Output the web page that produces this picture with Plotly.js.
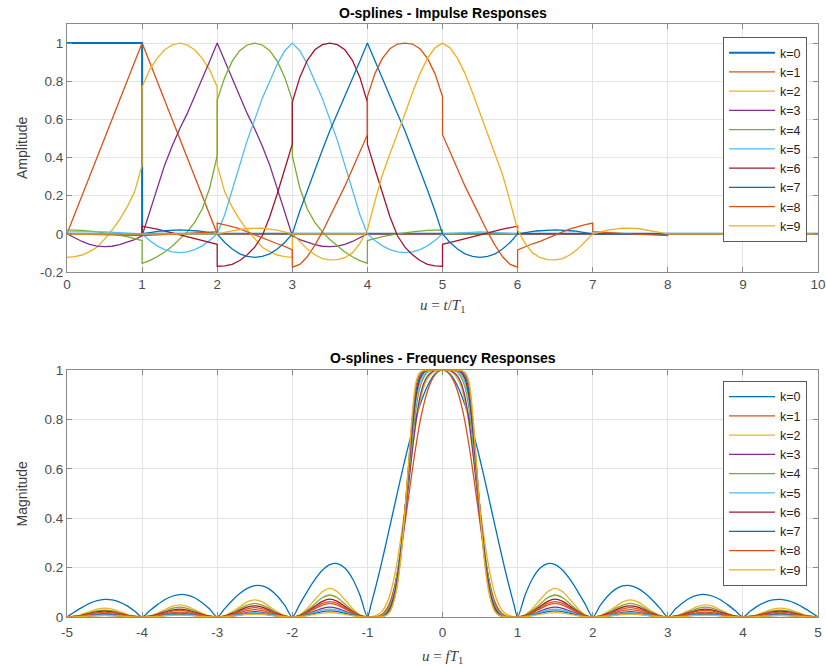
<!DOCTYPE html>
<html><head><meta charset="utf-8">
<script src="https://cdn.plot.ly/plotly-3.0.1.min.js"></script>
<style>html,body{margin:0;padding:0;background:#fff}#chart{width:826px;height:665px}</style>
</head><body><div id="chart"></div>
<script>
// ---------- series names & colours ----------
const seriesNames = ['k=0','k=1','k=2','k=3','k=4','k=5','k=6','k=7','k=8','k=9'];
const seriesColors = ['#0072BD','#D95319','#EDB120','#7E2F8E','#77AC30','#4DBEEE','#A2142F','#0072BD','#D95319','#EDB120'];

// ---------- impulse responses (u = t/T1, amplitude) ----------
const impX0 = [0,1,1,10];
const impY0 = [1,1,0,0];
const impX1 = [0,1,2,10];
const impY1 = [0,1,0,0];
const impX2 = [0,0.1,0.2,0.3,0.4,0.5,0.6,0.7,0.8,0.9,1,1,1.1,1.2,1.3,1.4,1.5,1.6,1.7,1.8,1.9,2,2,2.1,2.2,2.3,2.4,2.5,2.6,2.7,2.8,2.9,3,3,10];
const impY2 = [-0.123,-0.119,-0.111,-0.093,-0.07,-0.028,0.02,0.075,0.14,0.22,0.36,0.77,0.86,0.92,0.965,0.99,1,0.99,0.965,0.92,0.86,0.77,0.36,0.22,0.14,0.075,0.02,-0.028,-0.07,-0.093,-0.111,-0.119,-0.123,0,0];
const impX3 = [0,0.1,0.2,0.3,0.4,0.5,0.6,0.7,0.8,0.9,1,1.1,1.2,1.3,1.4,1.5,1.6,1.7,1.8,1.9,2,2.1,2.2,2.3,2.4,2.5,2.6,2.7,2.8,2.9,3,3.1,3.2,3.3,3.4,3.5,3.6,3.7,3.8,3.9,4,10];
const impY3 = [0,-0.02,-0.04,-0.055,-0.064,-0.067,-0.065,-0.057,-0.045,-0.03,-0.01,0.11,0.24,0.36,0.46,0.55,0.63,0.72,0.81,0.905,1,0.905,0.81,0.72,0.63,0.55,0.46,0.36,0.24,0.11,-0.01,-0.03,-0.045,-0.057,-0.065,-0.067,-0.064,-0.055,-0.04,-0.02,0,0];
const impX4 = [0,0.2,0.4,0.6,0.8,1,1,1.1,1.2,1.3,1.4,1.5,1.6,1.7,1.8,1.9,2,2,2.1,2.2,2.3,2.4,2.5,2.6,2.7,2.8,2.9,3,3,3.1,3.2,3.3,3.4,3.5,3.6,3.7,3.8,3.9,4,4,4.2,4.4,4.6,4.8,5,5,10];
const impY4 = [0.021,0.018,0.01,0,-0.015,-0.035,-0.155,-0.14,-0.12,-0.095,-0.065,-0.03,0.01,0.06,0.13,0.24,0.41,0.7,0.82,0.905,0.96,0.99,1,0.99,0.96,0.905,0.82,0.7,0.41,0.24,0.13,0.06,0.01,-0.03,-0.065,-0.095,-0.12,-0.14,-0.155,-0.035,-0.015,0,0.01,0.018,0.021,0,0];
const impX5 = [0,0.5,1,1.1,1.2,1.3,1.4,1.5,1.6,1.7,1.8,1.9,2,2.1,2.2,2.3,2.4,2.5,2.6,2.7,2.8,2.9,3,3.1,3.2,3.3,3.4,3.5,3.6,3.7,3.8,3.9,4,4.1,4.2,4.3,4.4,4.5,4.6,4.7,4.8,4.9,5,5.5,6,10];
const impY5 = [0.01,0.01,0,-0.035,-0.063,-0.083,-0.095,-0.098,-0.095,-0.083,-0.063,-0.035,0,0.1,0.23,0.36,0.49,0.6,0.71,0.8,0.89,0.96,1,0.96,0.89,0.8,0.71,0.6,0.49,0.36,0.23,0.1,0,-0.035,-0.063,-0.083,-0.095,-0.098,-0.095,-0.083,-0.063,-0.035,0,0.01,0,0];
const impX6 = [0,1,1,1.2,1.4,1.6,1.8,2,2,2.1,2.2,2.3,2.4,2.5,2.6,2.7,2.8,2.9,3,3,3.1,3.2,3.3,3.4,3.5,3.6,3.7,3.8,3.9,4,4,4.1,4.2,4.3,4.4,4.5,4.6,4.7,4.8,4.9,5,5,5.2,5.4,5.6,5.8,6,6,10];
const impY6 = [0,0,0.04,0.025,0.005,-0.015,-0.035,-0.055,-0.17,-0.168,-0.16,-0.14,-0.11,-0.07,-0.01,0.09,0.21,0.34,0.47,0.69,0.82,0.91,0.965,0.992,1,0.992,0.965,0.91,0.82,0.69,0.47,0.34,0.21,0.09,-0.01,-0.07,-0.11,-0.14,-0.16,-0.168,-0.17,-0.055,-0.035,-0.015,0.005,0.025,0.04,0,0];
const impX7 = [0,1,1.25,1.5,1.75,2,2.1,2.2,2.3,2.4,2.5,2.6,2.7,2.8,2.9,3,3.1,3.2,3.3,3.4,3.5,3.6,3.7,3.8,3.9,4,4.1,4.2,4.3,4.4,4.5,4.6,4.7,4.8,4.9,5,5.1,5.2,5.3,5.4,5.5,5.6,5.7,5.8,5.9,6,6.25,6.5,6.75,7,10];
const impY7 = [0,0,0.015,0.021,0.015,0,-0.045,-0.08,-0.105,-0.118,-0.123,-0.118,-0.105,-0.08,-0.045,0,0.12,0.23,0.34,0.44,0.54,0.63,0.72,0.81,0.905,1,0.905,0.81,0.72,0.63,0.54,0.44,0.34,0.23,0.12,0,-0.045,-0.08,-0.105,-0.118,-0.123,-0.118,-0.105,-0.08,-0.045,0,0.015,0.021,0.015,0,0];
const impX8 = [0,1,1.5,2,2,2.1,2.2,2.3,2.4,2.5,2.6,2.7,2.8,2.9,3,3,3.1,3.2,3.3,3.4,3.5,3.6,3.7,3.8,3.9,4,4,4.1,4.2,4.3,4.4,4.5,4.6,4.7,4.8,4.9,5,5,5.1,5.2,5.3,5.4,5.5,5.6,5.7,5.8,5.9,6,6,6.1,6.2,6.3,6.4,6.5,6.6,6.7,6.8,6.9,7,7,7.5,8,8,10];
const impY8 = [0,-0.009,0,0.012,0.056,0.048,0.038,0.026,0.01,-0.006,-0.022,-0.04,-0.052,-0.066,-0.084,-0.175,-0.16,-0.12,-0.06,0.01,0.09,0.17,0.25,0.34,0.43,0.52,0.72,0.84,0.92,0.97,0.995,1,0.995,0.97,0.92,0.84,0.72,0.52,0.43,0.34,0.25,0.17,0.09,0.01,-0.06,-0.12,-0.16,-0.175,-0.084,-0.066,-0.052,-0.04,-0.022,-0.006,0.01,0.026,0.038,0.048,0.056,0.012,0,-0.009,0,0];
const impX9 = [0,2,2.2,2.4,2.6,2.8,3,3.1,3.2,3.3,3.4,3.5,3.6,3.7,3.8,3.9,4,4.1,4.2,4.3,4.4,4.5,4.6,4.7,4.8,4.9,5,5.1,5.2,5.3,5.4,5.5,5.6,5.7,5.8,5.9,6,6.1,6.2,6.3,6.4,6.5,6.6,6.7,6.8,6.9,7,7.2,7.4,7.6,7.8,8,10];
const impY9 = [0,0,0.015,0.028,0.03,0.02,0,-0.04,-0.08,-0.11,-0.13,-0.137,-0.135,-0.125,-0.1,-0.05,0.02,0.17,0.31,0.42,0.52,0.63,0.74,0.84,0.92,0.975,1,0.975,0.92,0.84,0.74,0.63,0.52,0.42,0.31,0.17,0.02,-0.05,-0.1,-0.125,-0.135,-0.137,-0.13,-0.11,-0.08,-0.04,0,0.02,0.03,0.028,0.015,0,0];

// ---------- frequency responses (u = f T1, magnitude) ----------
const freqGrid = [-5,-4.9,-4.8,-4.7,-4.6,-4.5,-4.4,-4.3,-4.2,-4.1,-4,-3.9,-3.8,-3.7,-3.6,-3.5,-3.4,-3.3,-3.2,-3.1,-3,-2.9,-2.8,-2.7,-2.6,-2.5,-2.4,-2.3,-2.2,-2.1,-2,-1.9,-1.8,-1.7,-1.6,-1.5,-1.4,-1.3,-1.2,-1.1,-1,-0.95,-0.9,-0.85,-0.8,-0.75,-0.7,-0.65,-0.6,-0.55,-0.5,-0.45,-0.4,-0.35,-0.3,-0.25,-0.2,-0.15,-0.1,-0.05,0,0.05,0.1,0.15,0.2,0.25,0.3,0.35,0.4,0.45,0.5,0.55,0.6,0.65,0.7,0.75,0.8,0.85,0.9,0.95,1,1.1,1.2,1.3,1.4,1.5,1.6,1.7,1.8,1.9,2,2.1,2.2,2.3,2.4,2.5,2.6,2.7,2.8,2.9,3,3.1,3.2,3.3,3.4,3.5,3.6,3.7,3.8,3.9,4,4.1,4.2,4.3,4.4,4.5,4.6,4.7,4.8,4.9,5];
const mag0 = [0,.020,.039,.055,.066,.071,.069,.060,.045,.024, 0,.025,.049,.070,.084,.091,.089,.078,.058,.032, 0,.034,.067,.095,.116,.127,.126,.112,.085,.047, 0,.052,.104,.151,.189,.212,.216,.198,.156,.089,
 0,.0524,.1093,.1700,.2339,.3001,.3679,.4363,.5046,.5716,.6366,.6987,.7568,.8103,.8584,.9003,.9355,.9634,.9836,.9959, 1,
 .9959,.9836,.9634,.9355,.9003,.8584,.8103,.7568,.6987,.6366,.5716,.5046,.4363,.3679,.3001,.2339,.1700,.1093,.0524,0,
 .089,.156,.198,.216,.212,.189,.151,.104,.052, 0,.047,.085,.112,.126,.127,.116,.095,.067,.034, 0,.032,.058,.078,.089,.091,.084,.070,.049,.025, 0,.024,.045,.060,.069,.071,.066,.055,.039,.020, 0];
const mag1 = [0,.001,.005,.009,.013,.015,.013,.009,.005,.001, 0,.002,.006,.012,.018,.02,.018,.012,.006,.002, 0,.002,.009,.018,.026,.03,.026,.018,.009,.002, 0,.004,.017,.033,.048,.055,.048,.033,.017,.004,
 0,0,.001,.004,.012,.03,.06,.11,.18,.27,.38,.49,.6,.7,.79,.86,.915,.955,.98,.995, 1,
 .995,.98,.955,.915,.86,.79,.7,.6,.49,.38,.27,.18,.11,.06,.03,.012,.004,.001,0,0,
 .004,.017,.033,.048,.055,.048,.033,.017,.004, 0,.002,.009,.018,.026,.03,.026,.018,.009,.002, 0,.002,.006,.012,.018,.02,.018,.012,.006,.002, 0,.001,.005,.009,.013,.015,.013,.009,.005,.001, 0];
const mag2 = [0,.003,.011,.022,.032,.036,.032,.022,.011,.003, 0,.004,.015,.029,.043,.049,.043,.029,.015,.004, 0,.006,.021,.041,.061,.069,.061,.041,.021,.006, 0,.009,.035,.07,.102,.116,.102,.07,.035,.009,
 0,.001,.005,.012,.025,.05,.09,.15,.23,.33,.44,.56,.68,.79,.87,.93,.965,.985,.995,1, 1,
 1,.995,.985,.965,.93,.87,.79,.68,.56,.44,.33,.23,.15,.09,.05,.025,.012,.005,.001,0,
 .009,.035,.07,.102,.116,.102,.07,.035,.009, 0,.006,.021,.041,.061,.069,.061,.041,.021,.006, 0,.004,.015,.029,.043,.049,.043,.029,.015,.004, 0,.003,.011,.022,.032,.036,.032,.022,.011,.003, 0];
const mag3 = [0,.001,.003,.007,.01,.011,.01,.007,.003,.001, 0,.001,.005,.009,.013,.015,.013,.009,.005,.001, 0,.002,.007,.013,.019,.022,.019,.013,.007,.002, 0,.003,.012,.024,.035,.04,.035,.024,.012,.003,
 0,0,0,.002,.008,.02,.05,.1,.18,.28,.4,.54,.68,.8,.89,.945,.975,.99,.998,1, 1,
 1,.998,.99,.975,.945,.89,.8,.68,.54,.4,.28,.18,.1,.05,.02,.008,.002,0,0,0,
 .003,.012,.024,.035,.04,.035,.024,.012,.003, 0,.002,.007,.013,.019,.022,.019,.013,.007,.002, 0,.001,.005,.009,.013,.015,.013,.009,.005,.001, 0,.001,.003,.007,.01,.011,.01,.007,.003,.001, 0];
const mag4 = [0,.002,.008,.017,.025,.028,.025,.017,.008,.002, 0,.003,.012,.024,.035,.04,.035,.024,.012,.003, 0,.004,.017,.033,.048,.055,.048,.033,.017,.004, 0,.007,.027,.053,.078,.089,.078,.053,.027,.007,
 0,0,0,.002,.008,.022,.05,.1,.18,.29,.42,.57,.72,.85,.93,.97,.99,.997,1,1, 1,
 1,1,.997,.99,.97,.93,.85,.72,.57,.42,.29,.18,.1,.05,.022,.008,.002,0,0,0,
 .007,.027,.053,.078,.089,.078,.053,.027,.007, 0,.004,.017,.033,.048,.055,.048,.033,.017,.004, 0,.003,.012,.024,.035,.04,.035,.024,.012,.003, 0,.002,.008,.017,.025,.028,.025,.017,.008,.002, 0];
const mag5 = [0,.001,.003,.005,.008,.009,.008,.005,.003,.001, 0,.001,.004,.007,.011,.012,.011,.007,.004,.001, 0,.001,.005,.011,.016,.018,.016,.011,.005,.001, 0,.003,.01,.019,.028,.032,.028,.019,.01,.003,
 0,0,0,.001,.005,.015,.04,.09,.17,.29,.43,.59,.75,.88,.95,.98,.995,.999,1,1, 1,
 1,1,.999,.995,.98,.95,.88,.75,.59,.43,.29,.17,.09,.04,.015,.005,.001,0,0,0,
 .003,.01,.019,.028,.032,.028,.019,.01,.003, 0,.001,.005,.011,.016,.018,.016,.011,.005,.001, 0,.001,.004,.007,.011,.012,.011,.007,.004,.001, 0,.001,.003,.005,.008,.009,.008,.005,.003,.001, 0];
const mag6 = [0,.002,.007,.014,.021,.024,.021,.014,.007,.002, 0,.003,.01,.019,.028,.032,.028,.019,.01,.003, 0,.004,.014,.027,.04,.045,.04,.027,.014,.004, 0,.006,.022,.043,.063,.072,.063,.043,.022,.006,
 0,0,0,.001,.003,.012,.035,.08,.16,.28,.43,.6,.77,.9,.965,.99,.998,1,1,1, 1,
 1,1,1,.998,.99,.965,.9,.77,.6,.43,.28,.16,.08,.035,.012,.003,.001,0,0,0,
 .006,.022,.043,.063,.072,.063,.043,.022,.006, 0,.004,.014,.027,.04,.045,.04,.027,.014,.004, 0,.003,.01,.019,.028,.032,.028,.019,.01,.003, 0,.002,.007,.014,.021,.024,.021,.014,.007,.002, 0];
const mag7 = [0,.001,.002,.004,.006,.007,.006,.004,.002,.001, 0,.001,.003,.006,.009,.01,.009,.006,.003,.001, 0,.001,.004,.008,.012,.014,.012,.008,.004,.001, 0,.002,.008,.015,.022,.025,.022,.015,.008,.002,
 0,0,0,0,.002,.01,.03,.07,.15,.27,.43,.61,.79,.92,.975,.993,.999,1,1,1, 1,
 1,1,1,.999,.993,.975,.92,.79,.61,.43,.27,.15,.07,.03,.01,.002,0,0,0,0,
 .002,.008,.015,.022,.025,.022,.015,.008,.002, 0,.001,.004,.008,.012,.014,.012,.008,.004,.001, 0,.001,.003,.006,.009,.01,.009,.006,.003,.001, 0,.001,.002,.004,.006,.007,.006,.004,.002,.001, 0];
const mag8 = [0,.002,.006,.012,.018,.02,.018,.012,.006,.002, 0,.002,.008,.016,.024,.027,.024,.016,.008,.002, 0,.003,.011,.023,.033,.038,.033,.023,.011,.003, 0,.005,.019,.037,.055,.062,.055,.037,.019,.005,
 0,0,0,0,.002,.008,.025,.065,.14,.26,.43,.62,.81,.94,.985,.996,1,1,1,1, 1,
 1,1,1,1,.996,.985,.94,.81,.62,.43,.26,.14,.065,.025,.008,.002,0,0,0,0,
 .005,.019,.037,.055,.062,.055,.037,.019,.005, 0,.003,.011,.023,.033,.038,.033,.023,.011,.003, 0,.002,.008,.016,.024,.027,.024,.016,.008,.002, 0,.002,.006,.012,.018,.02,.018,.012,.006,.002, 0];
const mag9 = [0,0,.002,.004,.005,.006,.005,.004,.002,0, 0,.001,.002,.005,.007,.008,.007,.005,.002,.001, 0,.001,.004,.007,.011,.012,.011,.007,.004,.001, 0,.001,.005,.011,.016,.018,.016,.011,.005,.001,
 0,0,0,0,.002,.007,.022,.06,.13,.25,.43,.63,.83,.955,.99,.998,1,1,1,1, 1,
 1,1,1,1,.998,.99,.955,.83,.63,.43,.25,.13,.06,.022,.007,.002,0,0,0,0,
 .001,.005,.011,.016,.018,.016,.011,.005,.001, 0,.001,.004,.007,.011,.012,.011,.007,.004,.001, 0,.001,.002,.005,.007,.008,.007,.005,.002,.001, 0,0,.002,.004,.005,.006,.005,.004,.002,0, 0];

// ---------- tick labels ----------
const impXTicks = [0,1,2,3,4,5,6,7,8,9,10];
const impYTicks = [-0.2,0,0.2,0.4,0.6,0.8,1];
const impYTickText = ['-0.2','0','0.2','0.4','0.6','0.8','1'];
const freqXTicks = [-5,-4,-3,-2,-1,0,1,2,3,4,5];
const freqXTickText = ['-5','-4','-3','-2','-1','0','1','2','3','4','5'];
const freqYTicks = [0,0.2,0.4,0.6,0.8,1];
const freqYTickText = ['0','0.2','0.4','0.6','0.8','1'];

const impXs = [impX0,impX1,impX2,impX3,impX4,impX5,impX6,impX7,impX8,impX9];
const impYs = [impY0,impY1,impY2,impY3,impY4,impY5,impY6,impY7,impY8,impY9];
const mags = [mag0,mag1,mag2,mag3,mag4,mag5,mag6,mag7,mag8,mag9];

const traces = [];
for (let k = 0; k < 10; k++) {
  traces.push({
    type:'scatter', mode:'lines', x: impXs[k], y: impYs[k], name: seriesNames[k],
    xaxis:'x', yaxis:'y', legend:'legend',
    line:{color: seriesColors[k], width: k === 0 ? 2 : 1.3}, hoverinfo:'skip'
  });
}
for (let k = 0; k < 10; k++) {
  traces.push({
    type:'scatter', mode:'lines', x: freqGrid, y: mags[k], name: seriesNames[k],
    xaxis:'x2', yaxis:'y2', legend:'legend2',
    line:{color: seriesColors[k], width: 1.3, shape:'spline', smoothing:0.8}, hoverinfo:'skip'
  });
}

const FONT = 'Liberation Sans, Arial, Helvetica, sans-serif';
const axisBase = {
  showline:true, linecolor:'#8a8a8a', linewidth:1, mirror:'ticks',
  ticks:'inside', ticklen:5, tickcolor:'#8a8a8a', tickwidth:1,
  showgrid:true, gridcolor:'#e4e4e4', gridwidth:1, zeroline:false,
  tickfont:{family:FONT, size:13.5, color:'#4d4d4d'}, fixedrange:true
};
const legendBase = {
  xanchor:'right', yanchor:'top', bgcolor:'#ffffff', bordercolor:'#5a5a5a', borderwidth:1,
  font:{family:FONT, size:12.5, color:'#262626'}, tracegroupgap:0, itemwidth:46
};

const topDom = [0.5818, 1];
const botDom = [0, 0.4165];

const layout = {
  width:826, height:665,
  margin:{l:67, r:8, t:24, b:48},
  paper_bgcolor:'#ffffff', plot_bgcolor:'#ffffff',
  showlegend:true,
  xaxis:Object.assign({}, axisBase, {domain:[0,1], anchor:'y', range:[0,10], tickmode:'array', tickvals:impXTicks}),
  yaxis:Object.assign({}, axisBase, {domain:topDom, anchor:'x', range:[-0.2,1.1], tickmode:'array', tickvals:impYTicks, ticktext:impYTickText}),
  xaxis2:Object.assign({}, axisBase, {domain:[0,1], anchor:'y2', range:[-5,5], tickmode:'array', tickvals:freqXTicks, ticktext:freqXTickText, ticklabelstandoff:3}),
  yaxis2:Object.assign({}, axisBase, {domain:botDom, anchor:'x2', range:[0,1], tickmode:'array', tickvals:freqYTicks, ticktext:freqYTickText}),
  legend:Object.assign({}, legendBase, {x:0.9854, y:0.978}),
  legend2:Object.assign({}, legendBase, {x:0.9854, y:0.398}),
  annotations:[
    {text:'<b>O-splines - Impulse Responses</b>', xref:'paper', yref:'paper', x:0.5, y:1.0186, xanchor:'center', yanchor:'middle', showarrow:false, font:{family:FONT, size:14, color:'#000'}},
    {text:'<b>O-splines - Frequency Responses</b>', xref:'paper', yref:'paper', x:0.5, y:0.4368, xanchor:'center', yanchor:'middle', showarrow:false, font:{family:FONT, size:14, color:'#000'}},
    {text:'Amplitude', xref:'paper', yref:'paper', x:-0.0599, y:0.7909, xanchor:'center', yanchor:'middle', textangle:-90, showarrow:false, font:{family:FONT, size:14, color:'#404040'}},
    {text:'Magnitude', xref:'paper', yref:'paper', x:-0.0599, y:0.2083, xanchor:'center', yanchor:'middle', textangle:-90, showarrow:false, font:{family:FONT, size:14, color:'#404040'}},
    {text:'<i>u</i> = <i>t</i>/<i>T</i><sub>1</sub>', xref:'paper', yref:'paper', x:0.5, y:0.5245, xanchor:'center', yanchor:'middle', showarrow:false, font:{family:'Liberation Serif, Times New Roman, serif', size:15, color:'#404040'}},
    {text:'<i>u</i> = <i>fT</i><sub>1</sub>', xref:'paper', yref:'paper', x:0.5, y:-0.0675, xanchor:'center', yanchor:'middle', showarrow:false, font:{family:'Liberation Serif, Times New Roman, serif', size:15, color:'#404040'}}
  ]
};

Plotly.newPlot('chart', traces, layout, {displayModeBar:false, staticPlot:true});
</script>
</body></html>
